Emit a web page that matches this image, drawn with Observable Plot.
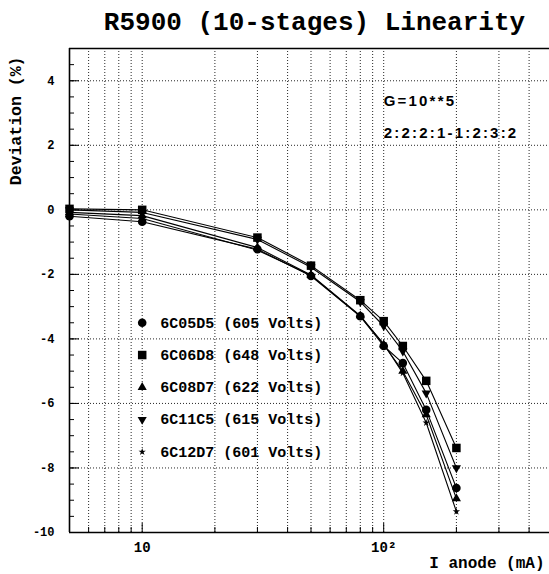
<!DOCTYPE html>
<html><head><meta charset="utf-8">
<script src="https://cdn.jsdelivr.net/npm/d3@7"></script>
<script src="https://cdn.jsdelivr.net/npm/@observablehq/plot@0.6"></script>
<style>body{margin:0;background:#fff}</style>
</head><body><div id="chart"></div>
<script>
// ---- data ----
const current = [5, 10, 30, 50, 80, 100, 120, 150, 200];           // I anode (mA)
const seriesNames = ["6C05D5 (605 Volts)", "6C06D8 (648 Volts)", "6C08D7 (622 Volts)", "6C11C5 (615 Volts)", "6C12D7 (601 Volts)"];
const dev6C05D5 = [-0.20, -0.37, -1.22, -2.05, -3.30, -4.22, -4.75, -6.20, -8.62];
const dev6C06D8 = [ 0.03,  0.00, -0.86, -1.73, -2.80, -3.45, -4.22, -5.30, -7.38];
const dev6C08D7 = [-0.08, -0.18, -1.17, -2.02, -3.28, -4.18, -5.00, -6.35, -8.95];
const dev6C11C5 = [ 0.00, -0.08, -0.92, -1.78, -2.85, -3.60, -4.38, -5.68, -8.00];
const dev6C12D7 = [-0.13, -0.27, -1.25, -2.03, -3.30, -4.15, -5.06, -6.60, -9.35];
const yTicks = [-10, -8, -6, -4, -2, 0, 2, 4];
const yGrid = [-8, -6, -4, -2, 0, 2, 4];
const yMinor = d3.range(-10, 5.01, 0.5);
const xMajor = [10, 100];
const xMajorLabels = ["10", "10²"];
const xGridTicks = [6, 7, 8, 9, 10, 20, 30, 40, 50, 60, 70, 80, 90, 100, 200, 300, 400];
const annotations = ["G=10**5", "2:2:2:1-1:2:3:2"];
const title = "R5900 (10-stages) Linearity";
const xLabel = "I anode (mA)";
const yLabel = "Deviation (%)";

// ---- build ----
const sqrt3 = Math.sqrt(3);
const triangleDown = {
  draw(ctx, size) {
    const y = Math.sqrt(size / (sqrt3 * 3));
    ctx.moveTo(0, 2 * y);
    ctx.lineTo(-sqrt3 * y, -y);
    ctx.lineTo(sqrt3 * y, -y);
    ctx.closePath();
  }
};
const allValues = [dev6C05D5, dev6C06D8, dev6C08D7, dev6C11C5, dev6C12D7];
const symbols = ["circle", "square", "triangle", triangleDown, "star"];
const radii = [4.3, 4.8, 3.4, 3.4, 2.3];
const rows = seriesNames.flatMap((name, s) => current.map((x, i) => ({x, y: allValues[s][i], name})));
const legend = seriesNames.map((name, i) => ({name, x: 10, y: -3.5 - i}));

const marks = [
  Plot.gridX(xGridTicks, {stroke: "#000", strokeOpacity: 0.85, strokeDasharray: "1,2"}),
  Plot.gridY(yGrid, {stroke: "#000", strokeOpacity: 0.85, strokeDasharray: "1,2"}),
  Plot.axisY({ticks: yTicks, tickSize: -10, text: null, label: null, strokeWidth: 1}),
  Plot.axisY({ticks: yMinor, tickSize: -5, text: null, label: null}),
  Plot.axisY({ticks: yTicks, tickSize: 0, tickPadding: 15, tickFormat: d => String(d), label: null, fontSize: 12, fontWeight: "bold"}),
  Plot.axisX({ticks: xMajor, tickSize: -9, text: null, label: null}),
  Plot.axisX({ticks: xGridTicks.filter(d => !xMajor.includes(d)), tickSize: -5, text: null, label: null}),
  Plot.axisX({ticks: xMajor, tickSize: 0, tickPadding: 10, tickFormat: d => xMajorLabels[xMajor.indexOf(d)], label: null, fontSize: 14, fontWeight: "bold"}),
  Plot.ruleY([-10, 5], {stroke: "#000", strokeWidth: 1.6}),
  Plot.ruleX([5], {stroke: "#000", strokeWidth: 1.6}),
  Plot.line(rows, {x: "x", y: "y", z: "name", stroke: "#000", strokeWidth: 1.1}),
  ...seriesNames.map((name, i) => Plot.dot(rows.filter(d => d.name === name), {x: "x", y: "y", symbol: () => symbols[i], r: radii[i], fill: "#000", stroke: "none"})),
  ...legend.map((d, i) => Plot.dot([d], {x: "x", y: "y", symbol: () => symbols[i], r: radii[i], fill: "#000", stroke: "none"})),
  Plot.text(legend, {x: "x", y: "y", text: "name", dx: 18, textAnchor: "start", fontSize: 15, fontWeight: "bold"}),
  Plot.text(annotations, {x: () => 100, y: (d, i) => 3.38 - 1.02 * i, text: d => d, textAnchor: "start", fontSize: 15, fontWeight: "bold", fontFamily: "Liberation Sans"}),
  Plot.text([title], {frameAnchor: "top", lineAnchor: "middle", dx: 5, dy: -27, fontSize: 26, fontWeight: "bold"}),
  Plot.text([xLabel], {frameAnchor: "bottom-right", lineAnchor: "middle", dx: -5, dy: 30, textAnchor: "end", fontSize: 16, fontWeight: "bold"}),
  Plot.text([yLabel], {frameAnchor: "top-left", lineAnchor: "middle", dx: -54, dy: 8, rotate: -90, textAnchor: "end", fontSize: 16.5, fontWeight: "bold"})
];

const chart = Plot.plot({
  width: 549,
  height: 574,
  marginLeft: 69,
  marginRight: 0,
  marginTop: 48,
  marginBottom: 42,
  style: {fontFamily: "'Liberation Mono', 'DejaVu Sans Mono', monospace", background: "#fff", color: "#000", overflow: "visible"},
  x: {type: "log", domain: [5, 500], range: [69, 552], axis: null},
  y: {domain: [-10, 5], axis: null},
  marks
});
d3.select(chart).selectAll("text").filter(function() { return annotations.includes(this.textContent); }).attr("letter-spacing", "2.2px");
document.getElementById("chart").appendChild(chart);
</script>
</body></html>
